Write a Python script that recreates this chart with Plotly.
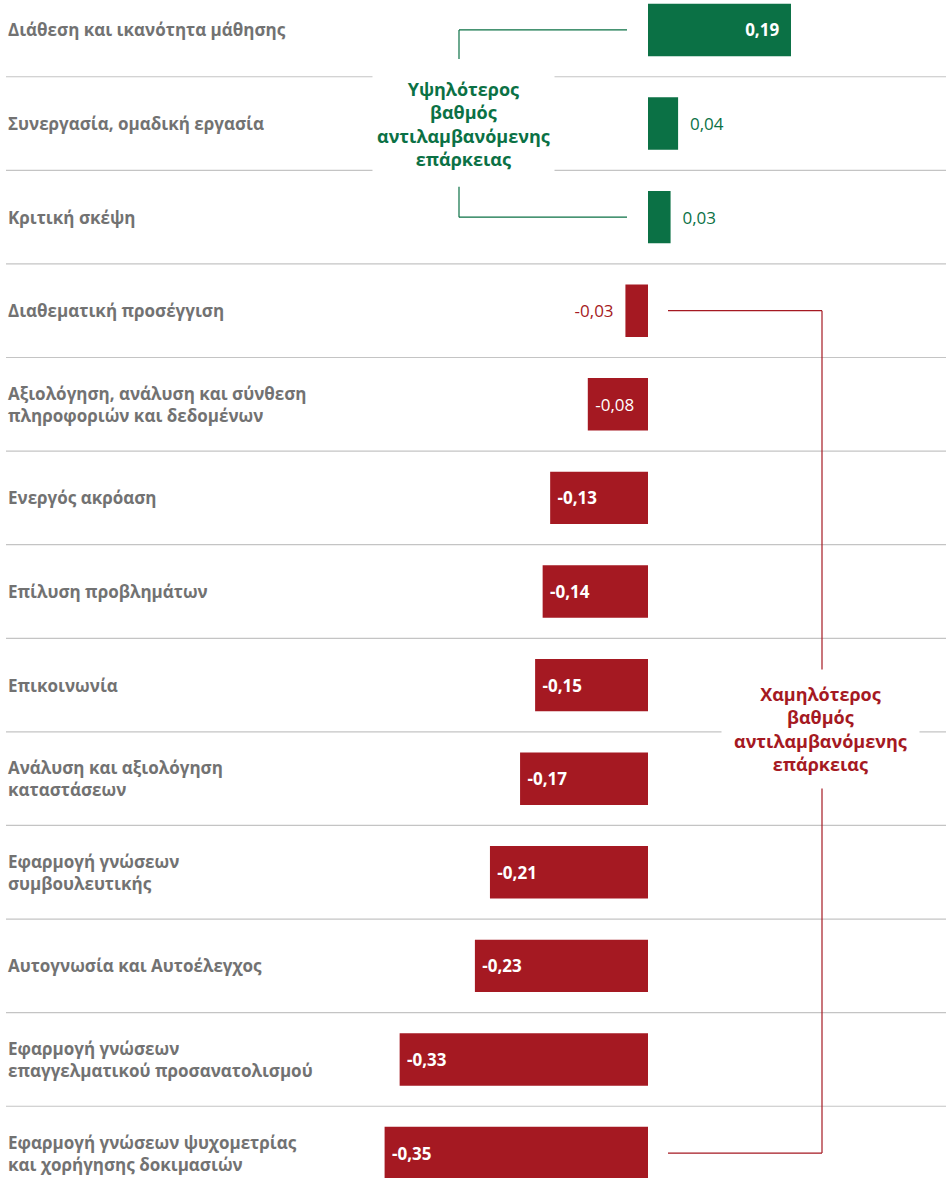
import plotly.graph_objects as go

skills = [
    "Διάθεση και ικανότητα μάθησης",
    "Συνεργασία, ομαδική εργασία",
    "Κριτική σκέψη",
    "Διαθεματική προσέγγιση",
    "Αξιολόγηση, ανάλυση και σύνθεση<br>πληροφοριών και δεδομένων",
    "Ενεργός ακρόαση",
    "Επίλυση προβλημάτων",
    "Επικοινωνία",
    "Ανάλυση και αξιολόγηση<br>καταστάσεων",
    "Εφαρμογή γνώσεων<br>συμβουλευτικής",
    "Αυτογνωσία και Αυτοέλεγχος",
    "Εφαρμογή γνώσεων<br>επαγγελματικού προσανατολισμού",
    "Εφαρμογή γνώσεων ψυχομετρίας<br>και χορήγησης δοκιμασιών",
]
scores = [0.19, 0.04, 0.03, -0.03, -0.08, -0.13, -0.14, -0.15, -0.17, -0.21, -0.23, -0.33, -0.35]

GREEN = "#0b7145"
RED = "#a51922"
GREY_TXT = "#727272"
W, H = 946, 1178
NB = "\u00a0"

colors = [GREEN if v > 0 else RED for v in scores]
texts, positions = [], []
for v in scores:
    s = f"{v:.2f}".replace(".", ",")
    if abs(v) >= 0.1:
        s = f"<b>{s}</b>"
    inside = abs(v) >= 0.05
    positions.append("inside" if inside else "outside")
    if inside:
        s = s + NB * 2 if v > 0 else NB + s
    else:
        s = NB * 2 + s if v > 0 else s + NB * 2
    texts.append(s)

fig = go.Figure(go.Bar(
    x=scores, y=skills, orientation="h",
    marker=dict(color=colors, line=dict(width=0)),
    text=texts, textposition=positions,
    insidetextanchor="end",
    insidetextfont=dict(color="white", size=17, family="Open Sans"),
    outsidetextfont=dict(color=colors, size=17, family="Open Sans"),
    constraintext="none", cliponaxis=False,
    hoverinfo="skip",
))


def px(xp):
    return xp / W


n = len(skills)
shapes = []
for i in range(n - 1):
    shapes.append(dict(type="line", xref="paper", yref="y", x0=px(6), x1=1,
                       y0=i + 0.5, y1=i + 0.5, line=dict(color="#c4c4c4", width=1.2),
                       layer="below"))


def seg(x0, y0, x1, y1, c):
    return dict(type="line", xref="paper", yref="y", x0=px(x0), x1=px(x1),
                y0=y0, y1=y1, line=dict(color=c, width=1.2))


# green bracket
shapes += [seg(459, 0, 627, 0, GREEN), seg(459, 0, 459, 0.31, GREEN),
           seg(459, 2, 627, 2, GREEN), seg(459, 1.675, 459, 2, GREEN)]
# red bracket
shapes += [seg(668, 3, 822, 3, RED), seg(822, 3, 822, 12, RED),
           seg(668, 12, 822, 12, RED)]

annotations = []
for s in skills:
    annotations.append(dict(xref="paper", yref="y", x=px(6), y=s, text=s,
                            xanchor="left", yanchor="middle", align="left",
                            showarrow=False,
                            font=dict(family="Open Sans", size=17, color=GREY_TXT, weight=700)))

annotations.append(dict(xref="paper", yref="y", x=px(463), y=1, xanchor="center",
                        yanchor="middle",
                        text="Υψηλότερος<br>βαθμός<br>αντιλαμβανόμενης<br>επάρκειας",
                        showarrow=False, align="center", bgcolor="white", borderpad=4,
                        font=dict(family="Open Sans", size=18, color=GREEN, weight=700)))
annotations.append(dict(xref="paper", yref="y", x=px(820), y=7.47, xanchor="center",
                        yanchor="middle",
                        text="Χαμηλότερος<br>βαθμός<br>αντιλαμβανόμενης<br>επάρκειας",
                        showarrow=False, align="center", bgcolor="white", borderpad=12,
                        font=dict(family="Open Sans", size=18, color=RED, weight=700)))

zero = 648  # px of x=0
scale = 752.6
fig.update_layout(
    width=W, height=H,
    margin=dict(l=0, r=0, t=0, b=0, pad=0),
    paper_bgcolor="white", plot_bgcolor="white",
    bargap=0.44, showlegend=False,
    xaxis=dict(range=[-zero / scale, (W - zero) / scale], visible=False, fixedrange=True),
    yaxis=dict(range=[12 + 25 / 93.75, -30 / 93.75], visible=False, categoryorder="array",
               categoryarray=skills, fixedrange=True),
    shapes=shapes, annotations=annotations,
)

fig.write_html("out.html", config={"displayModeBar": False},
               post_script="document.body.style.margin='0';")
